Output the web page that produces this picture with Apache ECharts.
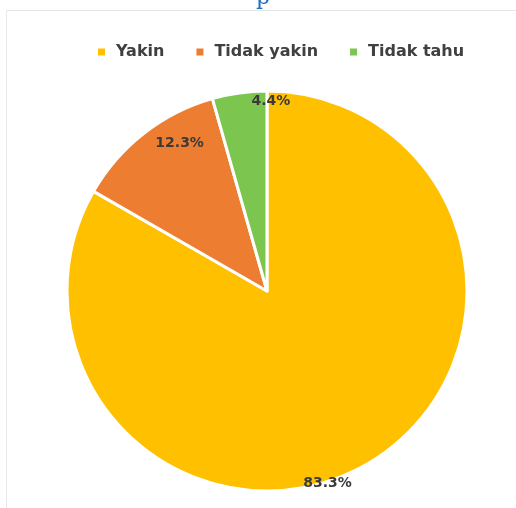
<!DOCTYPE html>
<html><head><meta charset="utf-8">
<script src="https://cdn.jsdelivr.net/npm/echarts@6/dist/echarts.min.js"></script>
<style>html,body{margin:0;padding:0;background:#fff}#c{width:516px;height:508px}</style>
</head><body><div id="c"></div>
<script>
const categories = ['Yakin', 'Tidak yakin', 'Tidak tahu'];
const values = [83.3, 12.3, 4.4];
const colors = ['#FFC000', '#ED7D31', '#7CC650'];
const labelOffsets = [[9, 103], [-24, -66], [18, -88]];

const chart = echarts.init(document.getElementById('c'));
chart.setOption({
  animation: false,
  backgroundColor: '#fff',
  graphic: [
    { type: 'line', shape: { x1: 6, y1: 10.5, x2: 516, y2: 10.5 }, style: { stroke: '#e4e4e4', lineWidth: 1 } },
    { type: 'line', shape: { x1: 6.5, y1: 10, x2: 6.5, y2: 508 }, style: { stroke: '#e8e8e8', lineWidth: 1 } },
    { type: 'text', left: 256, top: -13, style: { text: 'p', fill: '#1F6FC5', font: '22px "DejaVu Serif", serif' } }
  ],
  legend: {
    top: 39, left: 91,
    itemWidth: 9, itemHeight: 9, itemGap: 30,
    icon: 'rect',
    textStyle: { color: '#404040', fontSize: 16, fontWeight: 'bold', fontFamily: '"DejaVu Sans", sans-serif', padding: [0, 0, 0, 5] },
    data: categories
  },
  series: [{
    type: 'pie',
    center: [267, 291],
    radius: [0, 200],
    startAngle: 90,
    clockwise: true,
    itemStyle: { borderColor: '#fff', borderWidth: 3 },
    label: {
      show: true, position: 'inside',
      formatter: p => p.value.toFixed(1) + '%',
      color: '#3a3a3a', fontSize: 14, fontWeight: 'bold', fontFamily: '"DejaVu Sans", sans-serif'
    },
    labelLine: { show: false },
    emphasis: { disabled: true },
    data: categories.map((n, i) => ({
      name: n, value: values[i],
      itemStyle: { color: colors[i] },
      label: { offset: labelOffsets[i] }
    }))
  }]
});
</script></body></html>
